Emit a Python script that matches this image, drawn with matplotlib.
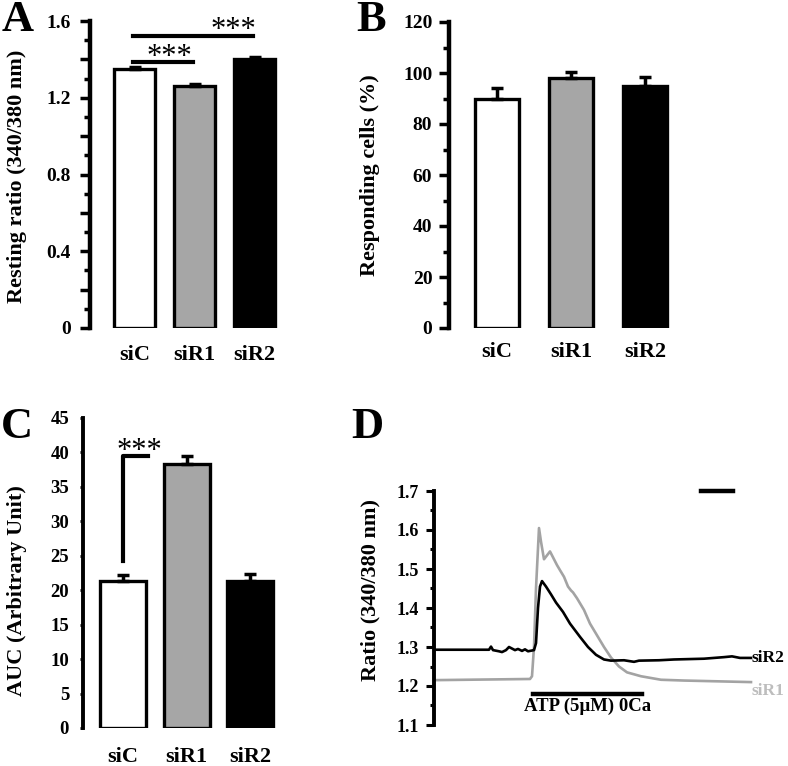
import numpy as np
import matplotlib
matplotlib.use("Agg")
import matplotlib.pyplot as plt
from matplotlib.ticker import MultipleLocator

plt.rcParams['font.family'] = ['Liberation Serif', 'DejaVu Serif']
plt.rcParams['font.weight'] = 'bold'

# ---- data ----
groups = ['siC', 'siR1', 'siR2']
bar_colors = ['white', '#a6a6a6', 'black']

resting_ratio = [1.35, 1.26, 1.40]
resting_err = [0.01, 0.01, 0.01]

responding = [90, 98, 95]
responding_err = [4.0, 2.5, 3.5]

auc = [21.4, 38.3, 21.3]
auc_err = [0.8, 1.2, 1.1]

# traces (time in frame units)
t_sir2 = [0, 55, 57, 59, 65, 68, 72, 75, 78, 81, 84, 88, 91, 94, 100, 102, 104,
          106, 108, 112, 117, 122, 129, 136, 146, 154, 162, 170, 177, 190, 200,
          205, 225, 240, 270, 290, 298, 306, 317]
r_sir2 = [1.293, 1.293, 1.301, 1.292, 1.289, 1.287, 1.292, 1.300, 1.296, 1.292,
          1.295, 1.290, 1.294, 1.289, 1.292, 1.31, 1.40, 1.455, 1.469, 1.455,
          1.435, 1.414, 1.39, 1.36, 1.326, 1.30, 1.28, 1.268, 1.265, 1.266,
          1.262, 1.265, 1.266, 1.268, 1.270, 1.274, 1.276, 1.272, 1.272]

t_sir1 = [0, 96, 98, 100, 102, 105, 107, 110, 113, 116, 119, 123, 126, 130, 134,
          137, 139, 143, 150, 156, 163, 170, 177, 185, 193, 207, 227, 250, 317]
r_sir1 = [1.215, 1.218, 1.225, 1.30, 1.45, 1.605, 1.57, 1.525, 1.535, 1.545,
          1.53, 1.51, 1.497, 1.48, 1.455, 1.445, 1.44, 1.425, 1.395, 1.36, 1.33,
          1.30, 1.273, 1.25, 1.235, 1.225, 1.216, 1.214, 1.21]

W, H = 788, 766
fig = plt.figure(figsize=(W / 100, H / 100), dpi=100)


def px_axes(left, top, right, bottom):
    return fig.add_axes([left / W, (H - bottom) / H, (right - left) / W, (bottom - top) / H])


def style_bar_axes(ax, lw, pad_x):
    for s in ['top', 'right', 'bottom']:
        ax.spines[s].set_visible(False)
    ax.spines['left'].set_linewidth(lw)
    ax.tick_params(axis='x', length=0, pad=pad_x, labelsize=16)
    for lab in ax.get_xticklabels():
        lab.set_fontweight('bold')


def draw_bars(ax, vals, errs, width):
    x = np.arange(len(vals))
    for i in range(len(vals)):
        ax.bar(x[i], vals[i], width=width, color=bar_colors[i], edgecolor='black',
               linewidth=2.4, zorder=2)
    ax.errorbar(x, vals, yerr=[[0] * len(vals), errs], fmt='none', ecolor='black',
                elinewidth=2.5, capsize=4, capthick=2.5, zorder=3)
    ax.set_xticks(x)
    ax.set_xticklabels(groups)


star_kw = dict(ha='center', va='bottom', fontsize=22, fontweight='normal', clip_on=False)

# ---- A ----
axA = px_axes(90, 21, 290, 328)
draw_bars(axA, resting_ratio, resting_err, 0.68)
axA.set_xlim(-0.742, 2.59)
axA.set_ylim(0, 1.6)
axA.set_yticks(np.arange(0, 1.61, 0.2))
axA.set_yticklabels(['0', '', '0.4', '', '0.8', '', '1.2', '', '1.6'])
axA.yaxis.set_minor_locator(MultipleLocator(0.1))
axA.tick_params(axis='y', which='major', length=7, width=2.5, labelsize=14, pad=7)
axA.tick_params(axis='y', which='minor', length=4, width=2.5)
style_bar_axes(axA, 3.2, 12)
axA.plot([-0.03, 1.975], [1.522, 1.522], color='black', lw=3, clip_on=False)
axA.plot([-0.03, 0.975], [1.386, 1.386], color='black', lw=3, clip_on=False)
axA.text(1.64, 1.475, '***', **star_kw)
axA.text(0.575, 1.334, '***', **star_kw)

# ---- B ----
axB = px_axes(449, 22, 700, 328)
draw_bars(axB, responding, responding_err, 0.6)
axB.set_xlim(-0.65, 2.74)
axB.set_ylim(0, 120)
axB.yaxis.set_major_locator(MultipleLocator(20))
axB.yaxis.set_minor_locator(MultipleLocator(10))
axB.tick_params(axis='y', which='major', length=7, width=2.5, labelsize=14, pad=5)
axB.tick_params(axis='y', which='minor', length=4, width=2.5)
style_bar_axes(axB, 3.2, 10)

# ---- C ----
axC = px_axes(83, 418, 290, 728)
draw_bars(axC, auc, auc_err, 0.72)
axC.set_xlim(-0.62, 2.62)
axC.set_ylim(0, 45)
axC.yaxis.set_major_locator(MultipleLocator(5))
axC.tick_params(axis='y', which='major', length=2, width=2, labelsize=13.5, pad=8)
style_bar_axes(axC, 2.8, 14)
axC.plot([0, 0, 0.4], [24.3, 39.5, 39.5], color='black', lw=3, clip_on=False)
axC.text(0.27, 38.0, '***', **star_kw)

# ---- D ----
axD = px_axes(434, 491, 788, 725)
axD.plot(t_sir1, r_sir1, color='#a3a3a3', lw=1.9, zorder=2)
axD.plot(t_sir2, r_sir2, color='black', lw=1.9, zorder=3)
axD.set_xlim(0, 354)
axD.set_ylim(1.1, 1.7)
for s in ['top', 'right', 'bottom']:
    axD.spines[s].set_visible(False)
axD.spines['left'].set_linewidth(2.8)
axD.set_xticks([])
axD.yaxis.set_major_locator(MultipleLocator(0.1))
axD.yaxis.set_minor_locator(MultipleLocator(0.05))
axD.tick_params(axis='y', which='major', length=6, width=2.2, labelsize=13, pad=5)
axD.tick_params(axis='y', which='minor', length=3, width=2.2)
axD.plot([99, 208], [1.18, 1.18], color='black', lw=3.2, clip_on=False)
axD.text(153.5, 1.147, 'ATP (5µM) 0Ca', ha='center', va='center', fontsize=13.5,
         fontweight='bold')
axD.plot([267, 299], [1.7, 1.7], color='black', lw=3.2, clip_on=False)
axD.text(318, 1.272, 'siR2', ha='left', va='center', fontsize=12.5, fontweight='bold')
axD.text(318, 1.187, 'siR1', ha='left', va='center', fontsize=12.5, fontweight='bold',
         color='#bdbdbd')

for ax in [axA, axB, axC, axD]:
    for lab in ax.get_yticklabels():
        lab.set_fontweight('bold')

# ---- y labels ----
ylab_kw = dict(rotation=90, ha='center', va='center', fontsize=16, fontweight='bold')
fig.text(17 / W, 1 - 176 / H, 'Resting ratio (340/380 nm)', **ylab_kw)
fig.text(370 / W, 1 - 175 / H, 'Responding cells (%)', **ylab_kw)
fig.text(17 / W, 1 - 591 / H, 'AUC (Arbitrary Unit)', **ylab_kw)
fig.text(370 / W, 1 - 590 / H, 'Ratio (340/380 nm)', **ylab_kw)

# ---- panel letters ----
let_kw = dict(ha='center', va='center', fontsize=32, fontweight='bold')
fig.text(18 / W, 1 - 20 / H, 'A', **let_kw)
fig.text(371 / W, 1 - 20 / H, 'B', **let_kw)
fig.text(17 / W, 1 - 427 / H, 'C', **let_kw)
fig.text(367 / W, 1 - 427 / H, 'D', **let_kw)

fig.savefig('out.png', dpi=100)
